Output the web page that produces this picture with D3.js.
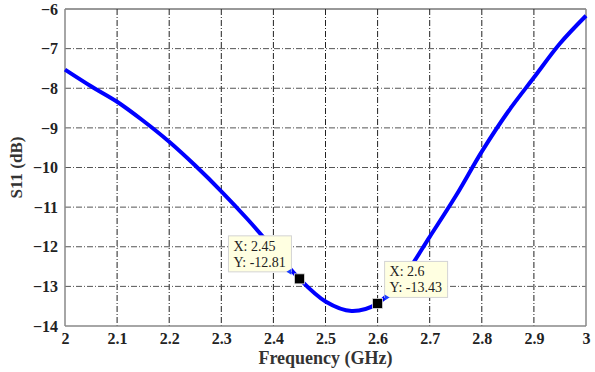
<!DOCTYPE html>
<html>
<head>
<meta charset="utf-8">
<script src="https://cdn.jsdelivr.net/npm/d3@7"></script>
<style>
  body { margin: 0; background: #fff; }
  text { font-family: "Liberation Serif", "Times New Roman", Tinos, serif; }
</style>
</head>
<body>
<div id="chart"></div>
<script>
// S11 curve
var freq = [2.0, 2.05, 2.1, 2.15, 2.2, 2.25, 2.3, 2.35, 2.4, 2.45, 2.5, 2.55, 2.6, 2.65, 2.7, 2.75, 2.8, 2.85, 2.9, 2.95, 3.0]
var s11 = [-7.53, -7.95, -8.34, -8.82, -9.35, -9.95, -10.6, -11.3, -12.05, -12.81, -13.38, -13.62, -13.43, -12.75, -11.75, -10.72, -9.6, -8.6, -7.73, -6.87, -6.17]
var xTicks = [2, 2.1, 2.2, 2.3, 2.4, 2.5, 2.6, 2.7, 2.8, 2.9, 3]
var yTicks = [-14, -13, -12, -11, -10, -9, -8, -7, -6]
var tipX = [2.45, 2.6]
var tipY = [-12.81, -13.43]

var serif = '"Liberation Serif", "Times New Roman", serif'

var margin = { top: 9, right: 9, bottom: 46, left: 65 }
var width = 595 - margin.left - margin.right
var height = 372 - margin.top - margin.bottom

var svg = d3.select('#chart')
  .append('svg')
  .attr('width', 595)
  .attr('height', 372)
  .append('g')
  .attr('transform', 'translate(' + margin.left + ',' + margin.top + ')')

var x = d3.scaleLinear().domain([2, 3]).range([0, width])
var y = d3.scaleLinear().domain([-14, -6]).range([height, 0])

// grid
svg.selectAll('.vgrid')
  .data(xTicks.slice(1, -1))
  .enter()
  .append('line')
  .attr('x1', d => x(d)).attr('x2', d => x(d))
  .attr('y1', 0).attr('y2', height)
  .attr('stroke', '#222')
  .attr('stroke-width', 1)
  .attr('stroke-dasharray', '6,2,1,2')

svg.selectAll('.hgrid')
  .data(yTicks.slice(1, -1))
  .enter()
  .append('line')
  .attr('x1', 0).attr('x2', width)
  .attr('y1', d => y(d)).attr('y2', d => y(d))
  .attr('stroke', '#555')
  .attr('stroke-width', 1)
  .attr('stroke-dasharray', '6,2,1,2')

// axes
var xAxis = d3.axisBottom(x).tickValues(xTicks).tickSize(0).tickPadding(7).tickFormat(d3.format('~g'))
var yAxis = d3.axisLeft(y).tickValues(yTicks).tickSize(0).tickPadding(7)

function styleTicks(g) {
  g.select('.domain').remove()
  g.attr('font-family', serif).attr('font-size', 16).attr('font-weight', 'bold')
  g.selectAll('.tick text').attr('fill', '#222')
}

svg.append('g')
  .attr('transform', 'translate(0,' + height + ')')
  .call(xAxis)
  .call(styleTicks)

svg.append('g')
  .call(yAxis)
  .call(styleTicks)

// box
svg.append('line').attr('x1', 0).attr('x2', width).attr('y1', 0).attr('y2', 0).attr('stroke', '#333')
svg.append('line').attr('x1', width).attr('x2', width).attr('y1', 0).attr('y2', height).attr('stroke', '#888').attr('stroke-width', 1.5)
svg.append('line').attr('x1', 0).attr('x2', 0).attr('y1', 0).attr('y2', height).attr('stroke', '#888').attr('stroke-width', 1.5)
svg.append('line').attr('x1', 0).attr('x2', width).attr('y1', height).attr('y2', height).attr('stroke', '#888').attr('stroke-width', 1.5)

// curve
var line = d3.line()
  .x((d, i) => x(freq[i]))
  .y(d => y(d))
  .curve(d3.curveCatmullRom)

svg.append('path')
  .datum(s11)
  .attr('d', line)
  .attr('fill', 'none')
  .attr('stroke', '#0000ff')
  .attr('stroke-width', 4)

// data tips
var tips = [
  { dx: -71, dy: -43 },
  { dx: 7, dy: -42 }
]
var boxW = 63
var boxH = 36

tipX.forEach(function(tx, i) {
  var px = x(tx)
  var py = y(tipY[i])
  var t = tips[i]
  var g = svg.append('g').attr('transform', 'translate(' + (px + t.dx) + ',' + (py + t.dy) + ')')
  g.append('rect')
    .attr('width', boxW).attr('height', boxH)
    .attr('fill', '#ffffe1')
    .attr('stroke', '#d4d4d4')
  g.append('text').attr('x', 5).attr('y', 15).text('X: ' + tx)
    .attr('font-family', serif).attr('font-size', 14).attr('fill', '#222')
  g.append('text').attr('x', 5).attr('y', 31).text('Y: ' + tipY[i])
    .attr('font-family', serif).attr('font-size', 14).attr('fill', '#222')

  // small pointer
  var cx = i === 0 ? px + t.dx + boxW : px + t.dx
  var cy = py + t.dy + boxH
  var s = i === 0 ? -1 : 1
  svg.append('path')
    .attr('d', 'M' + cx + ',' + (cy + 3) + 'L' + (cx + s * 5) + ',' + cy + 'L' + cx + ',' + (cy - 3) + 'Z')
    .attr('fill', '#1a3cff')

  svg.append('rect')
    .attr('x', px - 5).attr('y', py - 5)
    .attr('width', 10).attr('height', 10)
    .attr('fill', '#000')
    .attr('stroke', '#ddd')
    .attr('stroke-width', 0.8)
})

// axis labels
svg.append('text')
  .attr('x', width / 2)
  .attr('y', height + 38)
  .attr('text-anchor', 'middle')
  .text('Frequency (GHz)')
  .attr('font-family', serif)
  .attr('font-weight', 'bold')
  .attr('font-size', 18)
  .attr('fill', '#333')

svg.append('text')
  .attr('transform', 'translate(-43,' + height / 2 + ') rotate(-90)')
  .attr('text-anchor', 'middle')
  .text('S11 (dB)')
  .attr('font-family', serif)
  .attr('font-weight', 'bold')
  .attr('font-size', 17)
  .attr('fill', '#333')
</script>
</body>
</html>
